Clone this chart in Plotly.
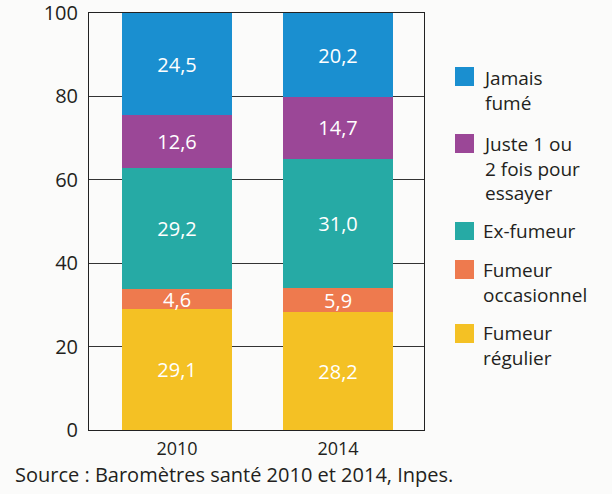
import plotly.graph_objects as go

# ---- data ----
years = ["2010", "2014"]
categories = ["Fumeur régulier", "Fumeur occasionnel", "Ex-fumeur",
              "Juste 1 ou 2 fois pour essayer", "Jamais fumé"]
legend_labels = ["Fumeur<br>régulier", "Fumeur<br>occasionnel", "Ex-fumeur",
                 "Juste 1 ou<br>2 fois pour<br>essayer", "Jamais<br>fumé"]
fumeur_regulier = [29.1, 28.2]
fumeur_occasionnel = [4.6, 5.9]
ex_fumeur = [29.2, 31.0]
juste_1_ou_2 = [12.6, 14.7]
jamais_fume = [24.5, 20.2]
y_ticks = [0, 20, 40, 60, 80, 100]
source_text = "Source : Baromètres santé 2010 et 2014, Inpes."

series = [fumeur_regulier, fumeur_occasionnel, ex_fumeur, juste_1_ou_2, jamais_fume]
colors = ["#f4c124", "#ee7a4e", "#26aaa5", "#9b4797", "#1a8fd0"]

W, H = 612, 494
L, R, T, B = 89, 188, 13, 64
PW, PH = W - L - R, H - T - B
FONT = "Open Sans"
TXT = "#231f20"
BG = "#fbfbfa"


def px_x(x):
    return (x - L) / PW


def px_y(y):
    return (H - B - y) / PH


fig = go.Figure()
for name, vals, col in zip(categories, series, colors):
    fig.add_trace(go.Bar(
        x=years, y=vals, name=name, marker=dict(color=col, line=dict(width=0)),
        width=0.68,
        text=[f"{v:.1f}".replace(".", ",") for v in vals],
        textposition="inside", insidetextanchor="middle", textangle=0,
        textfont=dict(color="white", size=20, family=FONT),
        showlegend=False, cliponaxis=False, hoverinfo="skip",
    ))

# manual legend (squares + labels)
legend_pos = [  # (square top, square bottom, text block centre) in pixels
    (324, 343, 345),
    (260, 279, 282),
    (222, 240, 231),
    (134, 153, 168),
    (67, 86, 91),
]
for lab, col, (st, sb, tc) in zip(legend_labels, colors, legend_pos):
    fig.add_shape(type="rect", xref="paper", yref="paper",
                  x0=px_x(455), x1=px_x(474), y0=px_y(sb), y1=px_y(st),
                  fillcolor=col, line=dict(width=0))
    fig.add_annotation(xref="paper", yref="paper", x=px_x(481), y=px_y(tc),
                       xanchor="left", yanchor="middle", align="left",
                       text=lab, showarrow=False,
                       font=dict(size=19, color=TXT, family=FONT))

fig.add_annotation(xref="paper", yref="paper", x=px_x(13), y=px_y(474),
                   xanchor="left", yanchor="middle", text=source_text,
                   showarrow=False, font=dict(size=20, color=TXT, family=FONT))

fig.update_layout(
    width=W, height=H, barmode="stack",
    margin=dict(l=L, r=R, t=T, b=B, pad=0, autoexpand=False),
    paper_bgcolor=BG, plot_bgcolor=BG,
    font=dict(family=FONT, color=TXT, size=18),
    uniformtext=dict(minsize=20, mode="show"),
    xaxis=dict(type="category", range=[-0.547, 1.534], showline=True,
               mirror=True, linecolor="#222", linewidth=1, showgrid=False,
               automargin=False, ticklabeloverflow="allow",
               ticks="outside", ticklen=2, tickcolor="rgba(0,0,0,0)",
               tickfont=dict(size=18, color=TXT, family=FONT)),
    yaxis=dict(range=[0, 100], tickvals=y_ticks, showline=True, mirror=True,
               linecolor="#222", linewidth=1, showgrid=True, gridcolor="#333",
               gridwidth=1, zeroline=False, automargin=False,
               ticklabeloverflow="allow",
               ticks="outside", ticklen=6, tickcolor="rgba(0,0,0,0)",
               tickfont=dict(size=20, color=TXT, family=FONT)),
)

fig.write_html(
    "out.html",
    config={"displayModeBar": False},
    post_script=f"document.body.style.margin='0';document.body.style.background='{BG}';",
)
